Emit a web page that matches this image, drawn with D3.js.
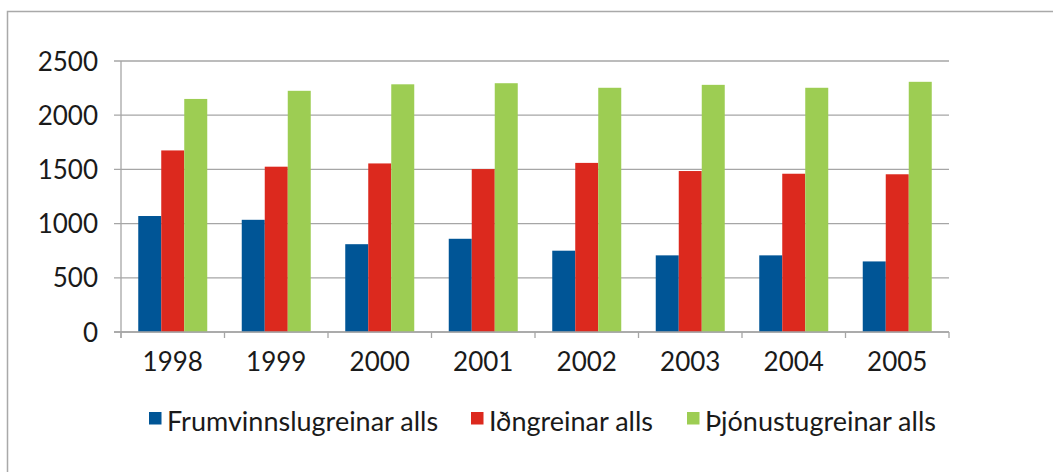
<!DOCTYPE html>
<html>
<head>
<meta charset="utf-8">
<script src="https://cdn.jsdelivr.net/npm/d3@7"></script>
<style>
body { margin: 0; background: #fff; }
text { font-family: Lato, "Open Sans", sans-serif; fill: #1a1a1a; }
</style>
</head>
<body>
<script>
var years = ["1998", "1999", "2000", "2001", "2002", "2003", "2004", "2005"];
var seriesNames = ["Frumvinnslugreinar alls", "Iðngreinar alls", "Þjónustugreinar alls"];
var frumvinnsla = [1070, 1035, 810, 860, 750, 707, 707, 651];
var idnadur = [1675, 1525, 1555, 1503, 1560, 1485, 1460, 1455];
var thjonusta = [2150, 2225, 2285, 2295, 2253, 2280, 2253, 2308];
var yTicks = [0, 500, 1000, 1500, 2000, 2500];
var colors = ["#005596", "#dc291e", "#9dcd53"];

var width = 1053;
var height = 472;
var plotLeft = 121, plotRight = 949, plotTop = 61, plotBottom = 332;

var allSeries = [frumvinnsla, idnadur, thjonusta];

var svg = d3.select("body").append("svg").attr("width", width).attr("height", height);

// outer frame (top and left edges only visible)
svg.append("path")
	.attr("d", "M7.5," + height + "V11.5H" + width)
	.attr("fill", "none")
	.attr("stroke", "#a9a9a9")
	.attr("stroke-width", 1.5);

var x = d3.scaleBand().domain(years).range([plotLeft, plotRight]).paddingInner(1 / 3).paddingOuter(1 / 6);
var xs = d3.scaleBand().domain([0, 1, 2]).range([0, x.bandwidth()]);
var y = d3.scaleLinear().domain([0, 2500]).range([plotBottom, plotTop]);

// gridlines
svg.append("g").selectAll("line").data(yTicks).enter().append("line")
	.attr("x1", plotLeft - 7).attr("x2", plotRight)
	.attr("y1", function(d) { return y(d); })
	.attr("y2", function(d) { return y(d); })
	.attr("stroke", "#a6a6a6")
	.attr("stroke-width", 1.3);

// y axis line
svg.append("line").attr("x1", plotLeft).attr("x2", plotLeft).attr("y1", plotTop).attr("y2", plotBottom + 6)
	.attr("stroke", "#a6a6a6").attr("stroke-width", 1.3);

// bars
var groups = svg.append("g").selectAll("g").data(years).enter().append("g")
	.attr("transform", function(d) { return "translate(" + x(d) + ",0)"; });

groups.selectAll("rect").data(function(d, i) { return allSeries.map(function(s, j) { return { s: j, v: s[i] }; }); })
	.enter().append("rect")
	.attr("x", function(d) { return xs(d.s); })
	.attr("width", xs.bandwidth())
	.attr("y", function(d) { return y(d.v); })
	.attr("height", function(d) { return y(0) - y(d.v); })
	.attr("fill", function(d) { return colors[d.s]; });

// x axis
var step = x.step();
var xTickPos = years.map(function(d) { return x(d) - x.paddingInner() * step / 2; });
xTickPos.push(plotRight);
svg.append("line").attr("x1", plotLeft - 7).attr("x2", plotRight).attr("y1", plotBottom).attr("y2", plotBottom)
	.attr("stroke", "#a6a6a6").attr("stroke-width", 1.5);
svg.append("g").selectAll("line").data(xTickPos).enter().append("line")
	.attr("x1", function(d) { return d; }).attr("x2", function(d) { return d; })
	.attr("y1", plotBottom).attr("y2", plotBottom + 6)
	.attr("stroke", "#a6a6a6").attr("stroke-width", 1.3);

svg.append("g").selectAll("text").data(years).enter().append("text")
	.attr("x", function(d) { return x(d) + x.bandwidth() / 2; })
	.attr("y", 371)
	.attr("text-anchor", "middle")
	.style("font-size", "26px")
	.text(function(d) { return d; });

// y labels
svg.append("g").selectAll("text").data(yTicks).enter().append("text")
	.attr("x", 98)
	.attr("y", function(d) { return y(d) + 9.5; })
	.attr("text-anchor", "end")
	.style("font-size", "26px")
	.text(function(d) { return d; });

// legend
var legX = [149, 471, 687];
var leg = svg.append("g").selectAll("g").data(seriesNames).enter().append("g")
	.attr("transform", function(d, i) { return "translate(" + legX[i] + ",0)"; });
leg.append("rect").attr("x", 0).attr("y", 412).attr("width", 12.5).attr("height", 12.5)
	.attr("fill", function(d, i) { return colors[i]; });
leg.append("text").attr("x", 18).attr("y", 431)
	.style("font-size", "27px")
	.text(function(d) { return d; });
</script>
</body>
</html>
